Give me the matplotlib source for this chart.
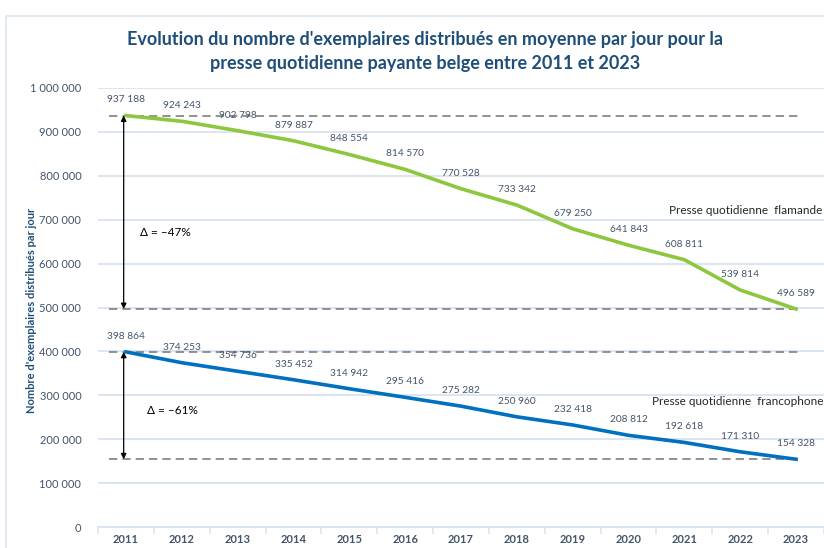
import numpy as np
import matplotlib
matplotlib.use('Agg')
import matplotlib.pyplot as plt
from matplotlib.patches import Rectangle

plt.rcParams['font.family'] = ['Lato', 'DejaVu Sans']

years = ['2011', '2012', '2013', '2014', '2015', '2016', '2017',
         '2018', '2019', '2020', '2021', '2022', '2023']
flamande = [937188, 924243, 902798, 879887, 848554, 814570, 770528,
            733342, 679250, 641843, 608811, 539814, 496589]
francophone = [398864, 374253, 354736, 335452, 314942, 295416, 275282,
               250960, 232418, 208812, 192618, 171310, 154328]
y_ticks = [0, 100000, 200000, 300000, 400000, 500000, 600000, 700000,
           800000, 900000, 1000000]

GREEN = '#8DC63F'
BLUE = '#0070C0'
DARK = '#1F4E79'
LABEL = '#44546A'
GRID = '#DCE6F2'


def fmt(v):
    return '{:,}'.format(v).replace(',', ' ')


fig = plt.figure(figsize=(8.24, 5.48), dpi=100)
fig.patches.append(Rectangle((6 / 824, -0.1), 1.2, 1 - 16 / 548 + 0.1,
                             transform=fig.transFigure, fill=False,
                             edgecolor=GRID, linewidth=1.2))

ax = fig.add_axes([98 / 824, 1 - 527 / 548, 1 - 98 / 824, (527 - 88) / 548])
x = np.arange(len(years))

ax.set_xlim(-0.5, len(years) - 0.5)
ax.set_ylim(0, 1000000)
ax.set_yticks(y_ticks)
ax.set_yticklabels([fmt(v) for v in y_ticks], color=LABEL, fontsize=8)
ax.set_xticks(x)
ax.set_xticklabels(years, color=LABEL, fontsize=8, fontweight='bold')
ax.set_xticks(np.arange(-0.5, len(years)), minor=True)
ax.tick_params(axis='x', which='major', length=0, pad=5)
ax.tick_params(axis='x', which='minor', length=5, color=GRID, width=1.2)
ax.tick_params(axis='y', length=0, pad=12)
ax.grid(axis='y', color=GRID, linewidth=1.4)
ax.set_axisbelow(True)
for s in ['top', 'right', 'left']:
    ax.spines[s].set_visible(False)
ax.spines['bottom'].set_color(GRID)
ax.spines['bottom'].set_linewidth(1.4)

# dashed reference lines
for v in [flamande[0], flamande[-1], francophone[0], francophone[-1]]:
    ax.plot([-0.3, 12.1], [v, v], color='#7F7F7F', linestyle=(0, (5, 3)),
            linewidth=1.2, zorder=2)

ax.plot(x, flamande, color=GREEN, linewidth=2.6, zorder=3)
ax.plot(x, francophone, color=BLUE, linewidth=2.6, zorder=3)

for xi, v in zip(x, flamande):
    ax.annotate(fmt(v), (xi, v), xytext=(0, 8), textcoords='offset points',
                ha='center', va='bottom', fontsize=7.3, color=LABEL)
for xi, v in zip(x, francophone):
    ax.annotate(fmt(v), (xi, v), xytext=(0, 8), textcoords='offset points',
                ha='center', va='bottom', fontsize=7.3, color=LABEL)

# double arrows
for top, bot in [(flamande[0], flamande[-1]), (francophone[0], francophone[-1])]:
    ax.annotate('', xy=(-0.04, bot), xytext=(-0.04, top),
                arrowprops=dict(arrowstyle='<|-|>', color='black', lw=0.9,
                                mutation_scale=8, shrinkA=0, shrinkB=0))

ax.text(0.25, 670000, 'Δ = –47%', fontsize=8.5, color='black', va='center')
ax.text(0.38, 265000, 'Δ = –61%', fontsize=8.5, color='black', va='center')
ax.text(9.72, 720000, 'Presse quotidienne  flamande', fontsize=8.5,
        color='#262626', va='center', clip_on=False)
ax.text(9.42, 286000, 'Presse quotidienne  francophone', fontsize=8.5,
        color='#262626', va='center', clip_on=False)

fig.text(32 / 824, 1 - 310 / 548, "Nombre d'exemplaires distribués par jour",
         rotation=90, ha='center', va='center', fontsize=8,
         fontweight='bold', color=DARK)

fig.text(425 / 824, 1 - 51 / 548,
         "Evolution du nombre d'exemplaires distribués en moyenne par jour pour la\n"
         "presse quotidienne payante belge entre 2011 et 2023",
         ha='center', va='center', fontsize=13, fontweight='bold', color=DARK,
         linespacing=1.5)

fig.savefig('out.png', dpi=100, facecolor='white')
